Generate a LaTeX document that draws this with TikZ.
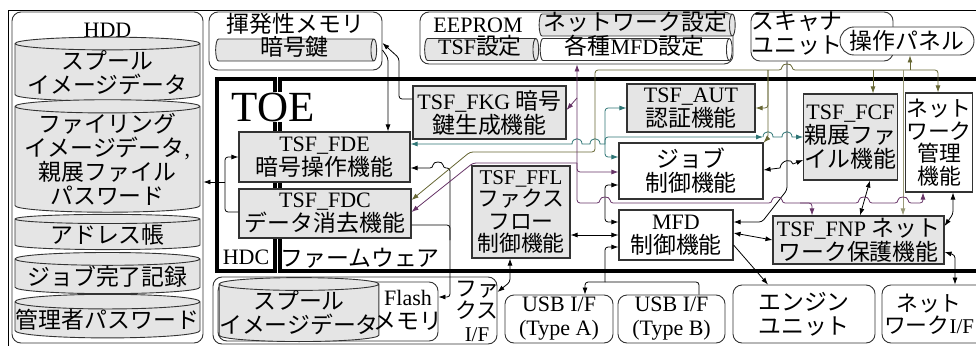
\documentclass[tikz,border=0pt]{standalone}
\usepackage{fontspec}
\setmainfont{Liberation Serif}
\newfontfamily\jpfont{Noto Sans CJK JP}[Scale=1.04]
\newcommand{\J}[1]{{\jpfont #1}}
\usetikzlibrary{shapes.geometric}
\usetikzlibrary{arrows.meta}
\definecolor{tealColor}{rgb}{0.18,0.46,0.46}
\definecolor{oliveColor}{rgb}{0.40,0.40,0.20}
\definecolor{oliveLight}{rgb}{0.60,0.60,0.47}
\definecolor{purpleColor}{rgb}{0.40,0.20,0.40}
\definecolor{boxGray}{rgb}{0.90,0.90,0.90}

\begin{document}
\begin{tikzpicture}[x=1pt,y=-1pt,font=\fontsize{22}{24}\selectfont]

          \tikzstyle{funcNode} = [draw=black!80, line width=1.1pt, fill=boxGray, align=center, inner sep=1pt];
          \tikzstyle{plainNode} = [funcNode, fill=white];
          \tikzstyle{unitNode} = [draw=black!80, line width=0.9pt, rounded corners=9pt, align=center, inner sep=1pt];
          \tikzstyle{drumNode} = [cylinder, shape border rotate=90, aspect=0.08, draw=black!80, line width=0.9pt, fill=boxGray, align=center, inner sep=0pt];
          \tikzstyle{keyDrum} = [cylinder, aspect=0.3, draw=black!80, line width=0.9pt, fill=boxGray, inner xsep=2pt, inner ysep=0pt, text height=15pt, text depth=4pt];
          \tikzstyle{toeFrame} = [line width=3.5pt];
          \tikzstyle{tightText} = [font=\fontsize{21}{22.5}\selectfont];

          \tikzstyle{linkEdge} = [line width=0.8pt];
          \tikzstyle{arrowEdge} = [linkEdge, -{Latex[length=7pt,width=5pt]}];
          \tikzstyle{bothEdge} = [linkEdge, {Latex[length=7pt,width=5pt]}-{Latex[length=7pt,width=5pt]}];

          \useasboundingbox (0,0) rectangle (976,345);
          \draw[line width=0.8pt] (8,10) rectangle (990,360);

          % HDD
          \node[unitNode, minimum width=191pt, minimum height=331pt] (hdd) at (107.5,177.5) {};
          \node (hddLabel) at (107.5,30) {HDD};
          \node[drumNode, minimum width=185pt, minimum height=55pt] (spool) at (107.5,72.5) {\J{スプール}\\\J{イメージデータ}};
          \node[drumNode, minimum width=185pt, minimum height=107pt] (filing) at (107.5,159.5) {\J{ファイリング}\\\J{イメージデータ},\\\J{親展ファイル}\\\J{パスワード}};
          \node[drumNode, minimum width=185pt, minimum height=33pt] (addr) at (107.5,234.5) {\J{アドレス帳}};
          \node[drumNode, minimum width=185pt, minimum height=39pt] (joblog) at (107.5,276.5) {\J{ジョブ完了記録}};
          \node[drumNode, minimum width=185pt, minimum height=38pt] (admin) at (107.5,320) {\J{管理者パスワード}};

          % memories and units at the top
          \node[unitNode, minimum width=173pt, minimum height=58pt] (mem) at (295.5,41) {};
          \node (memLabel) at (295.5,24) {\J{揮発性メモリ}};
          \node[keyDrum, minimum width=22pt, minimum height=161pt] (key) at (294.5,50) {\J{暗号鍵}};

          \node[unitNode, minimum width=313pt, minimum height=52pt] (eeprom) at (576.5,38) {};
          \node (eepLabel) at (478,25) {EEPROM};
          \node[keyDrum, minimum width=22pt, minimum height=190pt] (netSet) at (635.5,25) {\J{ネットワーク設定}};
          \node[keyDrum, minimum width=22pt, minimum height=114pt] (tsfSet) at (480,49.5) {TSF\J{設定}};
          \node[keyDrum, fill=white, minimum width=22pt, minimum height=192pt] (mfdSet) at (634.5,49.5) {\J{各種}MFD\J{設定}};

          \node[unitNode, minimum width=142pt, minimum height=49pt] (scan) at (822,36.5) {};
          \node[align=center] (scanLabel) at (797,33) {\J{スキャナ}\\\J{ユニット}};
          \node[unitNode, rounded corners=14pt, fill=white, minimum width=134pt, minimum height=28pt] (panel) at (907,41) {\J{操作パネル}};

          % TOE
          \draw[toeFrame] (217,79) rectangle (275,271);
          \draw[toeFrame] (280,79) rectangle (1000,271);
          \node[fill=white, inner sep=1pt, font=\fontsize{43}{45}\selectfont] (toe) at (273,107) {TOE};
          \node (hdc) at (246,257) {HDC};
          \node (fw) at (360,258) {\J{ファームウェア}};

          \node[funcNode, minimum width=171pt, minimum height=50pt] (fde) at (324.5,157) {TSF\_FDE\\\J{暗号操作機能}};
          \node[funcNode, minimum width=172pt, minimum height=49pt] (fdc) at (325,213.5) {TSF\_FDC\\\J{データ消去機能}};
          \node[funcNode, minimum width=153pt, minimum height=53pt] (fkg) at (489.5,112.5) {TSF\_FKG \J{暗号}\\\J{鍵生成機能}};
          \node[funcNode, tightText, minimum width=98pt, minimum height=92pt] (ffl) at (521,212) {TSF\_FFL\\\J{ファクス}\\\J{フロー}\\\J{制御機能}};
          \node[funcNode, minimum width=128pt, minimum height=48pt] (aut) at (691,108) {TSF\_AUT\\\J{認証機能}};
          \node[plainNode, minimum width=144pt, minimum height=56pt] (job) at (691,171) {\J{ジョブ}\\\J{制御機能}};
          \node[plainNode, minimum width=114pt, minimum height=50pt] (mfd) at (676,235) {MFD\\\J{制御機能}};
          \node[funcNode, minimum width=93pt, minimum height=86pt] (fcf) at (850.5,137) {TSF\_FCF\\\J{親展ファ}\\\J{イル機能}};
          \node[plainNode, tightText, minimum width=64pt, minimum height=99pt] (netMgr) at (939,142.5) {\J{ネット}\\\J{ワーク}\\\J{管理}\\\J{機能}};
          \node[funcNode, minimum width=171pt, minimum height=48pt] (fnp) at (858.5,240) {TSF\_FNP \J{ネット}\\\J{ワーク保護機能}};

          % units below the TOE
          \node[unitNode, minimum width=284pt, minimum height=67pt] (faxGroup) at (355,310.5) {};
          \node[unitNode, minimum width=220pt, minimum height=59pt] (flash) at (328,311.5) {};
          \node[drumNode, minimum width=158pt, minimum height=52pt] (spoolFlash) at (299,313) {\J{スプール}\\\J{イメージデータ}};
          \node[align=center] (flashLabel) at (408,310) {Flash\\\J{メモリ}};
          \node[align=center, tightText] (faxIf) at (477,311) {\J{ファ}\\\J{クス}\\I/F};
          \node[unitNode, minimum width=108pt, minimum height=48pt] (usbA) at (559,319) {USB I/F\\(Type A)};
          \node[unitNode, minimum width=107pt, minimum height=48pt] (usbB) at (671.5,319) {USB I/F\\(Type B)};
          \node[unitNode, minimum width=142pt, minimum height=58pt] (engine) at (804,314) {\J{エンジン}\\\J{ユニット}};
          \node[unitNode, minimum width=103pt, minimum height=58pt] (netIf) at (933.5,314) {};
          \node[align=center, tightText] (netIfLabel) at (929,314) {\J{ネット}\\\J{ワーク}I/F};

          % black links
          \coordinate (hddBus) at (225,182);
          \draw[arrowEdge, rounded corners=3pt] (fdc.west |- 0,212) -| (hddBus) |- (fde.west |- 0,157);
          \draw[arrowEdge] (hddBus) -- (hdd.east |- hddBus);
          \draw[arrowEdge, rounded corners=3pt] (fkg.west |- 0,99) -| (399,58) -- (mem.east |- 0,43);
          \draw[arrowEdge, rounded corners=3pt] (mem.east |- 0,50) -- (388,58) -- (fde.north -| 388,0);
          \coordinate (flashBus) at (450,240);
          \draw[arrowEdge, rounded corners=3pt] (flashBus) |- (flash.east |- 0,297);
          \draw[arrowEdge, rounded corners=3pt] (flashBus) -- (450,168) -- (443,168) .. controls (443,161) and (433,161) .. (433,168) -- (fde.east |- 0,168);
          \draw[linkEdge, rounded corners=3pt] (fdc.east |- 0,225) -| (flashBus);
          \draw[bothEdge, rounded corners=3pt] (ffl.south -| 510,0) -- (510,282) -- (faxGroup.east |- 0,292);
          \draw[bothEdge] (ffl.east |- 0,235) -- (mfd.west |- 0,235);
          \draw[bothEdge, rounded corners=3pt] (job.west |- 0,185) -| (605,203) |- (mfd.west |- 0,222);
          \coordinate (usbBus) at (605,282);
          \draw[arrowEdge, rounded corners=3pt] (usbBus) |- (mfd.west |- 0,247);
          \draw[arrowEdge, rounded corners=3pt] (usbBus) -| (usbA.north -| 585,0);
          \draw[linkEdge, rounded corners=3pt] (usbBus) -| (usbB.north -| 699,0);
          \draw[bothEdge] (mfd.east |- 0,233) -- (fnp.west |- 0,240);
          \draw[arrowEdge, rounded corners=3pt] (scan.south -| 787,0) -- (787,190) -- (762,222) -- (mfd.east |- 0,222);
          \draw[arrowEdge] (mfd.east |- 0,245) -- (engine.north -| 768,0);
          \draw[bothEdge] (job.east |- 0,170) -- (780,168) .. controls (781,160) and (792,158) .. (793,164) -- (fcf.west |- 0,160);
          \draw[bothEdge] (fcf.south -| 870,0) -- (fnp.north -| 860,0);
          \draw[bothEdge, rounded corners=3pt] (netMgr.south -| 953,0) -- (953,214) -- (fnp.east |- 0,226);
          \draw[bothEdge, rounded corners=3pt] (fnp.east |- 0,252) -- (955,255) -- (netIf.north -| 955,0);

          % teal links
          \coordinate (tealBus) at (605,144);
          \draw[arrowEdge, tealColor] (tealBus) -- (600,144) .. controls (600,137) and (590,137) .. (590,144) -- (582,144) .. controls (582,137) and (572,137) .. (572,144) -- (fde.east |- tealBus);
          \draw[arrowEdge, tealColor, rounded corners=3pt] (tealBus) |- (aut.west |- 0,108);
          \draw[arrowEdge, tealColor, rounded corners=3pt] (tealBus) |- (job.west |- 0,157);
          \draw[arrowEdge, tealColor, rounded corners=3pt] (tealBus) |- (763,137);
          \draw[arrowEdge, tealColor] (763,137) .. controls (763,130) and (773,130) .. (773,137) -- (782,137) .. controls (782,130) and (792,130) .. (792,137) -- (fcf.west |- 0,137);

          % olive links
          \draw[bothEdge, oliveColor, rounded corners=3pt] (netMgr.north -| 938,0) |- (792,70) .. controls (792,63) and (782,63) .. (782,70) -- (595,70) |- (470,152) -- (fdc.east |- 0,200);
          \draw[arrowEdge, oliveColor] (910,70) -- (panel.south -| 910,0);
          \draw[arrowEdge, oliveColor] (873,70) -- (fcf.north -| 873,0);
          \draw[arrowEdge, oliveColor, rounded corners=3pt] (768,70) |- (aut.east |- 0,108);
          \draw[arrowEdge, oliveColor, rounded corners=3pt] (768,70) -- (768,138) -- (job.north east);
          \draw[arrowEdge, oliveLight] (903,70) -- (fnp.north -| 903,0);

          % purple links
          \draw[bothEdge, purpleColor, rounded corners=3pt] (eeprom.south -| 577,0) |- (600,203) .. controls (600,196) and (610,196) .. (610,203) -- (772,203) .. controls (772,196) and (782,196) .. (782,203) -- (859,203) .. controls (859,196) and (869,196) .. (869,203) -- (898,203) .. controls (898,196) and (908,196) .. (908,203) -- (923,203) -- (netMgr.south -| 923,0);
          \draw[arrowEdge, purpleColor] (577,98) -- (fkg.east |- 0,110);
          \draw[arrowEdge, purpleColor, rounded corners=3pt] (577,163) |- (job.west |- 0,172);
          \draw[arrowEdge, purpleColor, rounded corners=3pt] (577,163) -- (473,163) -- (fdc.east |- 0,212);
          \draw[arrowEdge, purpleColor, rounded corners=3pt] (800,203) -| (fnp.north -| 812,0);
        \end{tikzpicture}
\end{document}
